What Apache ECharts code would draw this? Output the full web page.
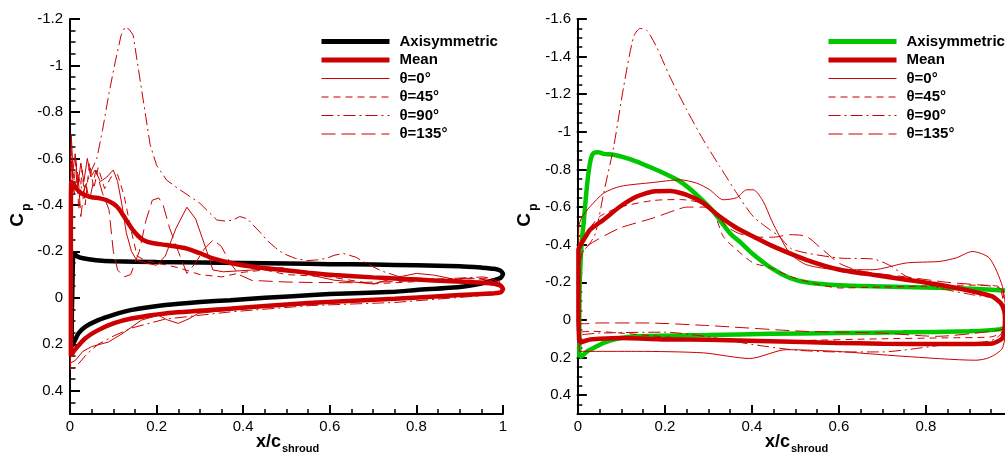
<!DOCTYPE html>
<html>
<head>
<meta charset="utf-8">
<script src="https://cdn.jsdelivr.net/npm/echarts@6/dist/echarts.min.js"></script>
<style>
  html, body { margin: 0; padding: 0; width: 1005px; height: 453px; overflow: hidden; background: #fff; }
  #chart { position: absolute; left: 0; top: 0; width: 1020px; height: 453px; }
</style>
</head>
<body>
<div id="chart"></div>
<script>
// Surface pressure coefficient loops, [x/c_shroud, Cp]: upper surface LE -> TE, lower surface TE -> LE.

// ---- Left panel ----
const leftAxisymmetric = [
  [0.004,0.21],[0.004,0.1],[0.005,0.0],[0.006,-0.1],[0.007,-0.17],[0.009,-0.193],[0.015,-0.18],[0.03,-0.17],
  [0.06,-0.162],[0.1,-0.157],[0.2,-0.154],[0.3,-0.152],[0.4,-0.15],[0.5,-0.148],[0.6,-0.145],[0.7,-0.143],
  [0.8,-0.14],[0.9,-0.136],[0.95,-0.13],[0.98,-0.125],[0.994,-0.117],[1.0,-0.103],[0.995,-0.087],[0.98,-0.076],
  [0.95,-0.062],[0.9,-0.047],[0.8,-0.034],[0.75,-0.026],[0.6,-0.016],[0.56,-0.012],[0.45,0.0],[0.37,0.01],
  [0.3,0.018],[0.22,0.031],[0.14,0.053],[0.1,0.073],[0.065,0.096],[0.035,0.125],[0.02,0.152],[0.012,0.18],[0.004,0.21]
];
const leftMean = [
  [0.002,0.25],[0.002,0.0],[0.002,-0.3],[0.003,-0.5],[0.008,-0.49],[0.015,-0.47],[0.025,-0.452],[0.038,-0.44],
  [0.05,-0.433],[0.069,-0.428],[0.085,-0.42],[0.1,-0.405],[0.112,-0.385],[0.123,-0.355],[0.135,-0.32],
  [0.146,-0.29],[0.158,-0.265],[0.17,-0.248],[0.19,-0.236],[0.223,-0.227],[0.27,-0.212],[0.3,-0.192],
  [0.33,-0.17],[0.377,-0.148],[0.43,-0.132],[0.49,-0.12],[0.55,-0.108],[0.61,-0.098],[0.7,-0.088],
  [0.76,-0.082],[0.84,-0.075],[0.92,-0.068],[0.977,-0.062],[0.994,-0.053],[1.0,-0.038],[0.995,-0.024],
  [0.98,-0.02],[0.9,-0.012],[0.75,0.004],[0.56,0.021],[0.373,0.046],[0.22,0.067],[0.142,0.089],
  [0.1,0.11],[0.065,0.139],[0.035,0.175],[0.012,0.222],[0.002,0.25]
];
const leftTheta0 = [
  [0.001,0.28],[0.001,0.0],[0.001,-0.5],[0.003,-0.7],[0.007,-0.55],[0.012,-0.62],[0.018,-0.48],[0.025,-0.58],
  [0.032,-0.5],[0.04,-0.6],[0.048,-0.52],[0.058,-0.55],[0.07,-0.5],[0.085,-0.52],[0.1,-0.55],[0.11,-0.5],
  [0.12,-0.4],[0.13,-0.28],[0.142,-0.2],[0.154,-0.162],[0.175,-0.15],[0.2,-0.14],[0.22,-0.18],[0.245,-0.3],
  [0.27,-0.39],[0.29,-0.34],[0.305,-0.26],[0.316,-0.2],[0.33,-0.12],[0.354,-0.112],[0.416,-0.119],
  [0.49,-0.13],[0.55,-0.1],[0.61,-0.076],[0.7,-0.06],[0.76,-0.09],[0.8,-0.105],[0.84,-0.098],[0.9,-0.075],
  [0.96,-0.06],[0.99,-0.05],[1.0,-0.035],[0.99,-0.02],[0.9,-0.01],[0.75,0.008],[0.6,0.022],[0.45,0.04],
  [0.33,0.06],[0.296,0.067],[0.275,0.09],[0.25,0.11],[0.225,0.095],[0.204,0.075],[0.165,0.096],
  [0.12,0.155],[0.089,0.19],[0.05,0.21],[0.03,0.23],[0.012,0.27],[0.001,0.28]
];
const leftTheta45 = [
  [0.001,0.22],[0.001,-0.3],[0.002,-0.65],[0.008,-0.45],[0.014,-0.6],[0.02,-0.38],[0.028,-0.55],[0.035,-0.4],
  [0.045,-0.58],[0.055,-0.47],[0.065,-0.56],[0.08,-0.47],[0.095,-0.52],[0.11,-0.53],[0.125,-0.44],
  [0.14,-0.3],[0.155,-0.18],[0.175,-0.16],[0.2,-0.15],[0.25,-0.13],[0.3,-0.1],[0.35,-0.09],[0.4,-0.11],
  [0.45,-0.12],[0.5,-0.1],[0.6,-0.09],[0.7,-0.06],[0.8,-0.07],[0.9,-0.08],[0.97,-0.085],[0.995,-0.065],
  [1.0,-0.045],[0.99,-0.02],[0.9,-0.008],[0.75,0.008],[0.56,0.024],[0.37,0.044],[0.22,0.065],[0.14,0.088],
  [0.065,0.135],[0.035,0.17],[0.012,0.22],[0.001,0.22]
];
const leftTheta90 = [
  [0.001,0.31],[0.001,0.0],[0.002,-0.45],[0.006,-0.55],[0.012,-0.48],[0.02,-0.52],[0.03,-0.45],[0.04,-0.5],
  [0.05,-0.55],[0.062,-0.6],[0.075,-0.72],[0.09,-0.88],[0.105,-1.02],[0.118,-1.13],[0.127,-1.165],
  [0.137,-1.155],[0.146,-1.13],[0.155,-1.02],[0.165,-0.9],[0.175,-0.78],[0.185,-0.66],[0.2,-0.57],
  [0.223,-0.507],[0.25,-0.47],[0.3,-0.407],[0.32,-0.37],[0.339,-0.335],[0.36,-0.33],[0.377,-0.335],
  [0.392,-0.35],[0.41,-0.34],[0.423,-0.313],[0.44,-0.28],[0.454,-0.249],[0.475,-0.215],[0.492,-0.191],
  [0.52,-0.17],[0.547,-0.16],[0.57,-0.163],[0.593,-0.17],[0.61,-0.183],[0.631,-0.191],[0.66,-0.175],
  [0.685,-0.148],[0.72,-0.115],[0.762,-0.09],[0.8,-0.085],[0.84,-0.08],[0.9,-0.085],[0.955,-0.09],
  [0.99,-0.075],[1.0,-0.04],[0.99,-0.015],[0.9,-0.002],[0.75,0.02],[0.558,0.033],[0.373,0.06],
  [0.3,0.075],[0.219,0.092],[0.142,0.13],[0.1,0.165],[0.065,0.2],[0.04,0.24],[0.012,0.3],[0.001,0.31]
];
const leftTheta135 = [
  [0.001,0.25],[0.001,-0.3],[0.003,-0.6],[0.01,-0.45],[0.018,-0.55],[0.025,-0.35],[0.035,-0.5],[0.045,-0.42],
  [0.06,-0.55],[0.075,-0.45],[0.09,-0.38],[0.1,-0.2],[0.11,-0.12],[0.125,-0.09],[0.14,-0.1],[0.16,-0.2],
  [0.175,-0.33],[0.19,-0.42],[0.205,-0.43],[0.215,-0.4],[0.23,-0.3],[0.25,-0.2],[0.27,-0.105],[0.29,-0.15],
  [0.31,-0.21],[0.331,-0.25],[0.35,-0.22],[0.37,-0.15],[0.39,-0.1],[0.42,-0.075],[0.5,-0.068],[0.56,-0.066],
  [0.65,-0.065],[0.75,-0.07],[0.85,-0.078],[0.93,-0.085],[0.99,-0.07],[1.0,-0.045],[0.99,-0.022],
  [0.9,-0.01],[0.75,0.006],[0.56,0.022],[0.37,0.045],[0.22,0.066],[0.14,0.09],[0.065,0.14],[0.035,0.175],
  [0.012,0.225],[0.001,0.25]
];

// ---- Right panel ----
const rightAxisymmetric = [
  [0.003,0.2],[0.003,0.0],[0.004,-0.2],[0.008,-0.4],[0.013,-0.515],[0.018,-0.65],[0.024,-0.78],[0.03,-0.86],
  [0.036,-0.887],[0.047,-0.892],[0.059,-0.883],[0.082,-0.878],[0.11,-0.862],[0.135,-0.842],[0.16,-0.818],
  [0.189,-0.789],[0.235,-0.736],[0.273,-0.665],[0.311,-0.577],[0.35,-0.46],[0.375,-0.41],[0.4,-0.355],
  [0.445,-0.275],[0.487,-0.223],[0.525,-0.2],[0.602,-0.184],[0.7,-0.178],[0.8,-0.172],[0.907,-0.166],
  [0.976,-0.157],[0.995,-0.15],[1.0,-0.06],[0.995,0.03],[0.969,0.05],[0.9,0.06],[0.747,0.066],[0.6,0.07],
  [0.441,0.074],[0.3,0.08],[0.135,0.087],[0.09,0.1],[0.059,0.122],[0.035,0.15],[0.021,0.167],[0.01,0.19],[0.003,0.2]
];
const rightMean = [
  [0.003,0.122],[0.001,0.0],[0.001,-0.25],[0.001,-0.373],[0.006,-0.4],[0.013,-0.426],[0.028,-0.48],
  [0.059,-0.533],[0.097,-0.603],[0.135,-0.656],[0.173,-0.683],[0.212,-0.685],[0.25,-0.665],[0.288,-0.621],
  [0.326,-0.55],[0.365,-0.489],[0.403,-0.444],[0.449,-0.391],[0.525,-0.32],[0.602,-0.267],[0.678,-0.24],
  [0.755,-0.214],[0.831,-0.187],[0.907,-0.152],[0.953,-0.125],[0.972,-0.09],[0.98,-0.05],[0.982,0.0],
  [0.98,0.06],[0.975,0.1],[0.953,0.125],[0.823,0.128],[0.7,0.126],[0.594,0.122],[0.441,0.113],[0.3,0.105],
  [0.212,0.104],[0.097,0.096],[0.05,0.1],[0.028,0.104],[0.003,0.122]
];
const rightTheta0 = [
  [0.003,0.167],[0.001,0.0],[0.001,-0.3],[0.002,-0.497],[0.01,-0.55],[0.028,-0.603],[0.059,-0.674],
  [0.097,-0.71],[0.173,-0.731],[0.235,-0.745],[0.273,-0.727],[0.303,-0.692],[0.334,-0.639],[0.365,-0.65],
  [0.388,-0.692],[0.403,-0.692],[0.426,-0.63],[0.445,-0.53],[0.464,-0.444],[0.487,-0.356],[0.525,-0.294],
  [0.602,-0.267],[0.678,-0.267],[0.755,-0.303],[0.831,-0.311],[0.87,-0.33],[0.907,-0.364],[0.946,-0.329],
  [0.976,-0.178],[0.985,0.0],[0.976,0.15],[0.946,0.2],[0.915,0.214],[0.747,0.193],[0.594,0.167],
  [0.479,0.158],[0.395,0.205],[0.288,0.175],[0.135,0.167],[0.013,0.167],[0.003,0.167]
];
const rightTheta45 = [
  [0.003,0.065],[0.001,-0.2],[0.004,-0.36],[0.013,-0.42],[0.025,-0.48],[0.05,-0.55],[0.097,-0.6],
  [0.173,-0.635],[0.235,-0.64],[0.288,-0.62],[0.311,-0.58],[0.334,-0.444],[0.365,-0.373],[0.403,-0.303],
  [0.44,-0.28],[0.49,-0.23],[0.55,-0.19],[0.602,-0.17],[0.7,-0.175],[0.8,-0.18],[0.9,-0.185],[0.965,-0.18],
  [0.98,-0.05],[0.98,0.05],[0.95,0.09],[0.85,0.095],[0.7,0.1],[0.5,0.11],[0.35,0.115],[0.2,0.09],
  [0.1,0.07],[0.03,0.06],[0.003,0.065]
];
const rightTheta90 = [
  [0.002,0.08],[0.001,-0.1],[0.002,-0.3],[0.01,-0.36],[0.025,-0.4],[0.04,-0.46],[0.059,-0.674],
  [0.082,-0.92],[0.105,-1.24],[0.128,-1.506],[0.143,-1.55],[0.158,-1.54],[0.181,-1.45],[0.212,-1.29],
  [0.25,-1.117],[0.288,-0.958],[0.326,-0.816],[0.365,-0.674],[0.403,-0.55],[0.441,-0.48],[0.46,-0.45],
  [0.49,-0.38],[0.525,-0.356],[0.602,-0.329],[0.678,-0.324],[0.717,-0.29],[0.755,-0.232],[0.831,-0.17],
  [0.907,-0.134],[0.969,-0.108],[0.98,-0.05],[0.98,0.05],[0.95,0.11],[0.85,0.13],[0.75,0.16],[0.7,0.17],
  [0.6,0.17],[0.5,0.16],[0.4,0.13],[0.3,0.09],[0.2,0.065],[0.05,0.07],[0.002,0.08]
];
const rightTheta135 = [
  [0.003,0.02],[0.001,-0.2],[0.004,-0.3],[0.015,-0.38],[0.044,-0.426],[0.097,-0.489],[0.173,-0.542],
  [0.227,-0.586],[0.25,-0.6],[0.29,-0.6],[0.32,-0.56],[0.34,-0.5],[0.37,-0.46],[0.41,-0.44],[0.45,-0.44],
  [0.487,-0.453],[0.525,-0.444],[0.563,-0.373],[0.602,-0.3],[0.65,-0.26],[0.75,-0.23],[0.85,-0.2],
  [0.95,-0.18],[0.975,-0.16],[0.98,-0.05],[0.98,0.04],[0.95,0.06],[0.823,0.087],[0.7,0.07],[0.517,0.06],
  [0.3,0.03],[0.15,0.016],[0.05,0.016],[0.015,0.02],[0.003,0.02]
];

const xTicks = { min: 0, max: 1, step: 0.2 };
const leftYRange = { min: -1.2, max: 0.5, step: 0.2 };
const rightYRange = { min: -1.6, max: 0.5, step: 0.2 };
const MINOR_STEP = 0.05;

const FONT = '"Liberation Sans", Arial, Helvetica, sans-serif';
const RED = '#cc0000';
const DASH45 = [7, 5];
const DASH90 = [12, 4, 2, 4];
const DASH135 = [14, 6];

const panels = [
  { grid: { left: 70, top: 19, width: 433, height: 395 }, y: leftYRange, axiColor: '#000000',
    legendLeft: 319, thinSmooth: false, cp: { x: 18, y: 220 }, xt: { x: 256 },
    axi: leftAxisymmetric, mean: leftMean,
    t0: leftTheta0, t45: leftTheta45, t90: leftTheta90, t135: leftTheta135 },
  { grid: { left: 578, top: 19, width: 436, height: 395 }, y: rightYRange, axiColor: '#00c800',
    legendLeft: 826, thinSmooth: 0.25, cp: { x: 524.5, y: 220 }, xt: { x: 765 },
    axi: rightAxisymmetric, mean: rightMean,
    t0: rightTheta0, t45: rightTheta45, t90: rightTheta90, t135: rightTheta135 }
];

const blackLine = (show) => ({ show, onZero: false, lineStyle: { color: '#000', width: 2 } });
const tick = (len, w) => ({ show: true, length: len, lineStyle: { color: '#000', width: w } });
const legendItem = (name, color, width, type) => ({
  name, itemStyle: { opacity: 0, color: 'transparent', borderWidth: 0 },
  lineStyle: { width, color, type: type || 'solid', opacity: 1 }
});

const option = {
  animation: false,
  backgroundColor: '#fff',
  textStyle: { fontFamily: FONT },
  grid: [], legend: [], xAxis: [], yAxis: [], graphic: [], series: []
};

panels.forEach((p, gi) => {
  const g = p.grid;
  option.grid.push({ left: g.left, top: g.top, width: g.width, height: g.height });
  option.legend.push({
    orient: 'vertical', left: p.legendLeft, top: 34, padding: 0,
    itemWidth: 68, itemHeight: 14, itemGap: 3.5,
    textStyle: { fontFamily: FONT, fontSize: 15, fontWeight: 'bold', color: '#000', padding: [0, 0, 0, 5] },
    data: [
      legendItem('Axisymmetric', p.axiColor, 5),
      legendItem('Mean', RED, 5),
      legendItem('θ=0°', RED, 1.2),
      legendItem('θ=45°', RED, 1.2, DASH45),
      legendItem('θ=90°', RED, 1.2, DASH90),
      legendItem('θ=135°', RED, 1.2, DASH135)
    ]
  });

  const xMain = option.xAxis.length;
  option.xAxis.push(
    {
      gridIndex: gi, type: 'value', min: xTicks.min, max: xTicks.max, interval: xTicks.step,
      axisLine: blackLine(true), axisTick: { show: false }, splitLine: { show: false },
      axisLabel: { fontFamily: FONT, fontSize: 15, color: '#000', margin: 5 }
    },
    {
      // a top-type axis shifted onto the bottom edge, so its ticks face up into the plot
      gridIndex: gi, type: 'value', position: 'top', offset: -g.height,
      min: xTicks.min, max: xTicks.max, interval: xTicks.step,
      axisLine: blackLine(false), axisTick: tick(9, 2),
      minorTick: { show: true, splitNumber: 4, length: 5, lineStyle: { color: '#000', width: 1.5 } },
      axisLabel: { show: false }, splitLine: { show: false }
    }
  );

  const yMain = option.yAxis.length;
  option.yAxis.push(
    {
      gridIndex: gi, type: 'value', inverse: true, position: 'left',
      min: p.y.min, max: p.y.max, interval: p.y.step,
      axisLine: blackLine(true), axisTick: { show: false }, splitLine: { show: false },
      axisLabel: { fontFamily: FONT, fontSize: 15, color: '#000', margin: 7, showMaxLabel: false }
    },
    {
      // right-type axes shifted onto the left edge, ticks facing right
      gridIndex: gi, type: 'value', inverse: true, position: 'right', offset: -g.width,
      min: p.y.min, max: p.y.max, interval: p.y.step,
      axisLine: blackLine(false), axisTick: tick(10, 2), axisLabel: { show: false }, splitLine: { show: false }
    },
    {
      gridIndex: gi, type: 'value', inverse: true, position: 'right', offset: -g.width,
      min: p.y.min, max: p.y.max, interval: MINOR_STEP,
      axisLine: blackLine(false), axisTick: tick(5.5, 1.5), axisLabel: { show: false }, splitLine: { show: false }
    }
  );

  option.graphic.push(
    { type: 'text', x: p.cp.x, y: p.cp.y, rotation: Math.PI / 2,
      style: { text: 'C', font: 'bold 19px ' + FONT, fill: '#000', align: 'center', verticalAlign: 'middle' } },
    { type: 'text', x: p.cp.x + 9, y: p.cp.y - 13, rotation: Math.PI / 2,
      style: { text: 'p', font: 'bold 12px ' + FONT, fill: '#000', align: 'center', verticalAlign: 'middle' } },
    { type: 'text', x: p.xt.x, y: 442,
      style: { text: 'x/c', font: 'bold 18px ' + FONT, fill: '#000', align: 'left', verticalAlign: 'middle' } },
    { type: 'text', x: p.xt.x + 26, y: 449,
      style: { text: 'shroud', font: 'bold 11px ' + FONT, fill: '#000', align: 'left', verticalAlign: 'middle' } }
  );

  const on = { xAxisIndex: xMain, yAxisIndex: yMain };
  const thin = (name, data, dash) => Object.assign({
    name, type: 'line', data, symbol: 'none', smooth: p.thinSmooth,
    color: RED, itemStyle: { color: RED },
    lineStyle: { color: RED, width: 1, type: dash }, z: 4
  }, on);
  option.series.push(
    Object.assign({ name: 'Axisymmetric', type: 'line', data: p.axi, symbol: 'none', smooth: 0.2,
      color: p.axiColor, itemStyle: { color: p.axiColor },
      lineStyle: { color: p.axiColor, width: 4.5 }, z: 2 }, on),
    Object.assign({ name: 'Mean', type: 'line', data: p.mean, symbol: 'none', smooth: 0.2,
      color: RED, itemStyle: { color: RED },
      lineStyle: { color: RED, width: 4.5 }, z: 3 }, on),
    thin('θ=0°', p.t0, 'solid'),
    thin('θ=45°', p.t45, DASH45),
    thin('θ=90°', p.t90, DASH90),
    thin('θ=135°', p.t135, DASH135)
  );
});

const chart = echarts.init(document.getElementById('chart'), null, { renderer: 'canvas' });
chart.setOption(option);
</script>
</body>
</html>
